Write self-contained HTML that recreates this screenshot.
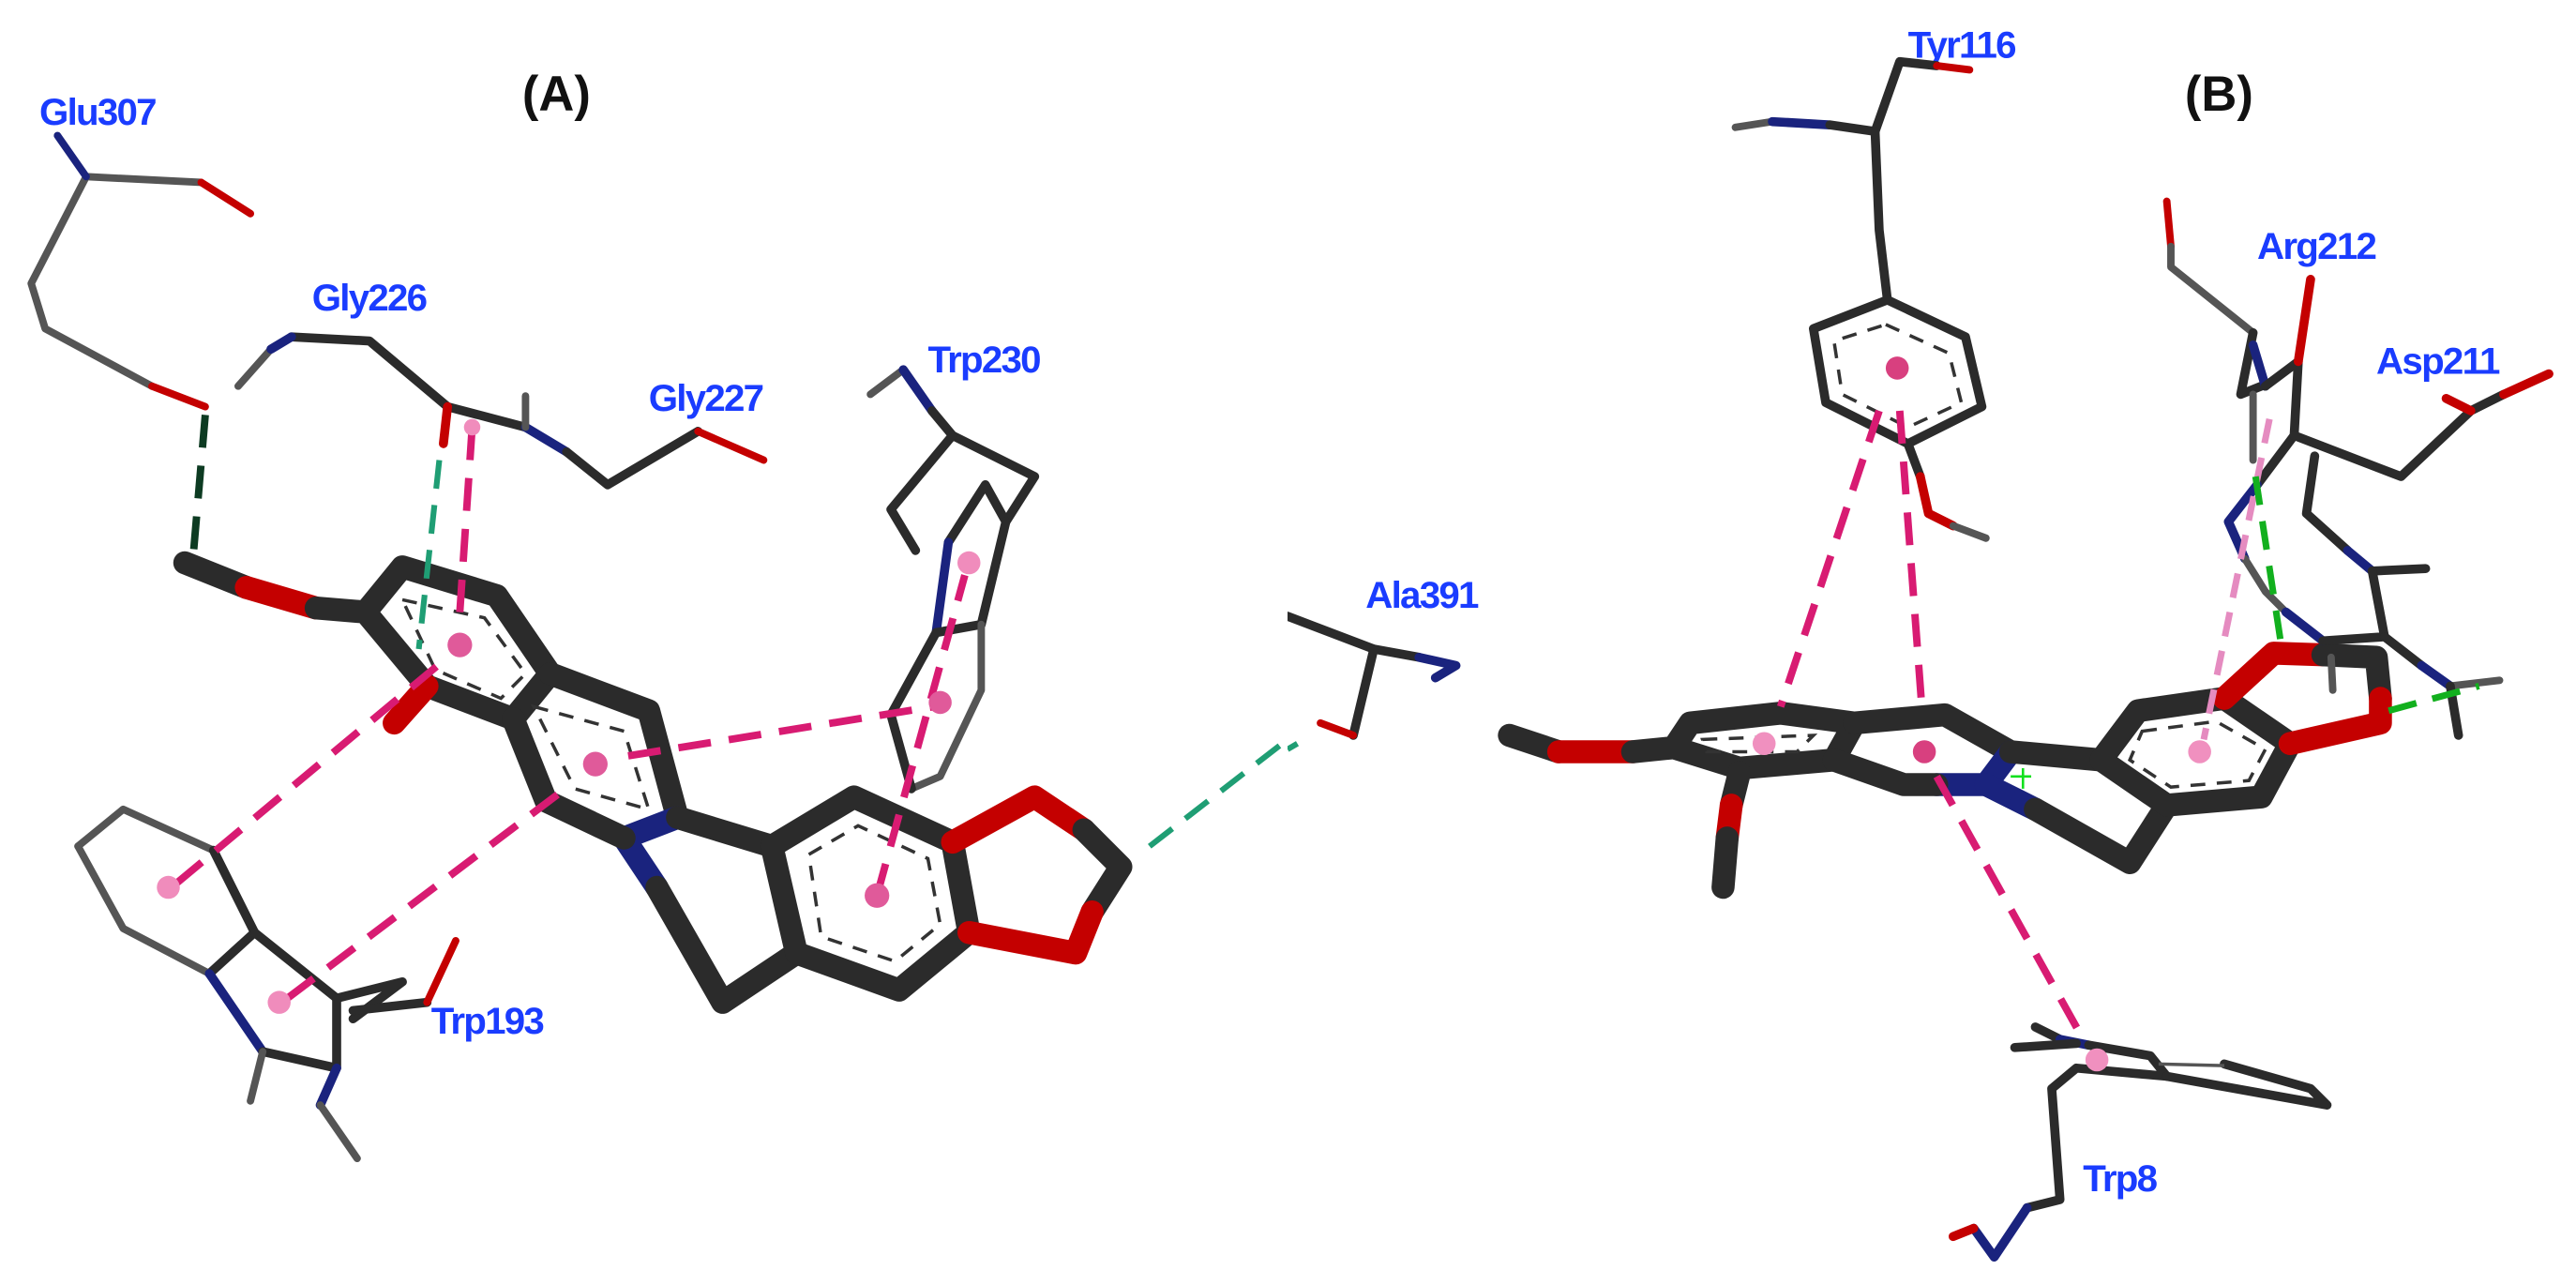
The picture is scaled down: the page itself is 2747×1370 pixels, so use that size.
<!DOCTYPE html>
<html><head><meta charset="utf-8"><style>
html,body{margin:0;padding:0;background:#fff;}
svg{display:block;position:absolute;top:0;}
.b{stroke:#2b2b2b;fill:none;stroke-linecap:round;stroke-linejoin:round;}
.t{stroke:#2b2b2b;stroke-width:28;fill:none;stroke-linecap:round;stroke-linejoin:round;}
.s{stroke:#2b2b2b;stroke-width:11;fill:none;stroke-linecap:round;stroke-linejoin:round;}
.g{stroke:#555;stroke-width:9;fill:none;stroke-linecap:round;stroke-linejoin:round;}
.lbl{font-family:"Liberation Sans",Arial,sans-serif;font-weight:bold;fill:#1a3cff;font-size:46px;letter-spacing:-2px;}
.hd{font-family:"Liberation Sans",Arial,sans-serif;font-weight:bold;fill:#111;font-size:60px;}
.pk{stroke:#d81b72;stroke-width:9;stroke-dasharray:40 22;fill:none;}
.lp{stroke:#e58bc0;stroke-width:8;stroke-dasharray:30 18;fill:none;}
.tl{stroke:#1f9e74;stroke-width:7;stroke-dasharray:35 20;fill:none;}
.gr{stroke:#12b01e;stroke-width:8;stroke-dasharray:35 20;fill:none;}
.dr{stroke:#0d3b22;stroke-width:9;stroke-dasharray:40 22;fill:none;}
.ir{stroke:#333;stroke-width:4;stroke-dasharray:18 14;fill:none;}
.red{stroke:#c40000;}
.blu{stroke:#1a237e;}
</style></head><body>
<div style="position:relative;width:2747px;height:1370px;overflow:hidden;">
<!-- LEFT PANEL -->
<svg style="left:0" width="1373" height="1370" viewBox="0 0 1568 1564" preserveAspectRatio="none">
<text class="hd" x="636" y="135">(A)</text>
<text class="lbl" x="48" y="152">Glu307</text>
<text class="lbl" x="380" y="378">Gly226</text>
<text class="lbl" x="790" y="500">Gly227</text>
<text class="lbl" x="1130" y="453">Trp230</text>
<text class="lbl" x="525" y="1258">Trp193</text>
<!-- Glu307 -->
<polyline class="g" points="105,215 245,222"/>
<polyline class="g red" points="245,222 305,260"/>
<polyline class="g" points="105,215 38,345 55,400 185,470"/>
<polyline class="g red" points="185,470 250,495"/>
<polyline class="g blu" points="70,165 105,215"/>
<line class="dr" x1="250" y1="505" x2="235" y2="680"/>
<!-- Gly226/227 -->
<polyline class="s" points="355,410 450,415 545,495 640,520"/>
<polyline class="g" points="290,470 330,425"/>
<polyline class="s blu" points="330,425 355,410"/>
<polyline class="s red" points="545,495 540,540"/>
<polyline class="s blu" points="640,520 690,550"/>
<polyline class="s" points="690,550 740,590 850,525"/>
<polyline class="g red" points="850,525 930,560"/>
<polyline class="g" points="640,520 640,482"/>
<!-- ligand A -->
<polyline class="t" points="225,685 300,715"/>
<polyline class="t red" points="300,715 385,740"/>
<polyline class="t" points="385,740 445,745 490,690 605,725 670,820 625,875 520,835 445,745"/>
<polyline class="t red" points="520,835 480,880"/>
<polyline class="t" points="670,820 790,865 825,995"/>
<polyline class="t blu" points="825,995 760,1020 800,1080"/>
<polyline class="t" points="760,1020 665,975 625,875"/>
<polyline class="t" points="825,995 940,1030"/>
<polyline class="t" points="800,1080 880,1220 970,1160"/>
<polyline class="t" points="940,1030 1040,970 1160,1025 1180,1135 1095,1205 970,1160 940,1030"/>
<polyline class="t red" points="1160,1025 1260,970 1320,1010"/>
<polyline class="t" points="1320,1010 1365,1055 1330,1110"/>
<polyline class="t red" points="1330,1110 1310,1160 1180,1135"/>
<polygon class="ir" points="490,730 590,752 640,820 610,850 530,815"/>
<polygon class="ir" points="650,860 760,890 790,985 700,960"/>
<polygon class="ir" points="985,1040 1045,1005 1130,1045 1145,1125 1090,1170 1000,1140"/>
<!-- Trp193 -->
<polyline class="g" points="95,1030 150,985 260,1035"/>
<polyline class="s" points="260,1035 310,1135 255,1185"/>
<polyline class="g" points="255,1185 150,1130 95,1030"/>
<polyline class="s" points="310,1135 410,1215 490,1195 430,1240"/>
<polyline class="s blu" points="255,1185 320,1280"/>
<polyline class="s" points="320,1280 410,1300 410,1215"/>
<polyline class="g" points="320,1280 305,1340"/>
<polyline class="s blu" points="410,1300 390,1345"/>
<polyline class="g" points="390,1345 435,1410"/>
<polyline class="s" points="430,1230 520,1220"/>
<polyline class="g red" points="520,1220 555,1145"/>
<!-- Trp230 -->
<polyline class="g" points="1060,480 1100,450"/>
<polyline class="s blu" points="1100,450 1135,500"/>
<polyline class="s" points="1135,500 1160,530 1260,580 1225,635 1200,590 1155,660"/>
<polyline class="s" points="1160,530 1085,620 1115,670"/>
<polyline class="s blu" points="1155,660 1140,770"/>
<polyline class="s" points="1225,635 1195,760 1140,770"/>
<polyline class="g" points="1195,760 1195,840 1145,945 1110,960"/>
<polyline class="s" points="1110,960 1085,870 1140,770"/>
<!-- interactions -->
<line class="pk" x1="575" y1="520" x2="560" y2="745"/>
<line class="pk" x1="765" y1="920" x2="1150" y2="858"/>
<line class="pk" x1="1068" y1="1090" x2="1175" y2="700"/>
<line class="pk" x1="215" y1="1075" x2="545" y2="800"/>
<line class="pk" x1="350" y1="1215" x2="695" y2="955"/>
<line class="tl" x1="535" y1="560" x2="510" y2="790"/>
<line class="tl" x1="1400" y1="1030" x2="1568" y2="900"/>
<g fill="#e05a9a"><circle cx="560" cy="785" r="15"/><circle cx="725" cy="930" r="15"/><circle cx="1068" cy="1090" r="15"/><circle cx="1145" cy="855" r="14"/></g>
<g fill="#f08cbc"><circle cx="1180" cy="685" r="14"/><circle cx="205" cy="1080" r="14"/><circle cx="340" cy="1220" r="14"/><circle cx="575" cy="520" r="10"/></g>
</svg>
<!-- RIGHT PANEL -->
<svg style="left:1373px" width="1374" height="1370" viewBox="0 0 1568 1564" preserveAspectRatio="none">
<text class="hd" x="1092" y="135">(B)</text>
<text class="lbl" x="755" y="70">Tyr116</text>
<text class="lbl" x="95" y="740">Ala391</text>
<text class="lbl" x="1180" y="315">Arg212</text>
<text class="lbl" x="1325" y="455">Asp211</text>
<text class="lbl" x="968" y="1450">Trp8</text>
<!-- Tyr116 -->
<polyline class="g" points="545,155 590,148"/>
<polyline class="s blu" points="590,148 660,152"/>
<polyline class="s" points="660,152 715,160 745,75 790,80"/>
<polyline class="g red" points="790,80 830,85"/>
<polyline class="s" points="715,160 720,280 730,365"/>
<polygon class="s" points="730,365 825,410 845,495 755,540 655,490 640,400"/>
<polygon class="ir" points="728,395 805,430 820,490 755,520 675,480 665,415"/>
<polyline class="s" points="755,540 770,580"/>
<polyline class="s red" points="770,580 780,625 810,640"/>
<polyline class="g" points="810,640 850,655"/>
<!-- Ala391 -->
<polyline class="s" points="0,750 105,790 160,800"/>
<polyline class="s blu" points="160,800 205,810 180,825"/>
<polyline class="s" points="105,790 80,895"/>
<polyline class="g red" points="80,895 40,880"/>
<line class="tl" x1="0" y1="912" x2="12" y2="905"/>
<!-- ligand B -->
<polyline class="t" points="270,895 330,915"/>
<polyline class="t red" points="330,915 420,915"/>
<polyline class="t" points="420,915 470,910 490,880 600,868 690,880 665,925 550,935 470,910"/>
<polyline class="t" points="550,940 540,980"/>
<polyline class="t red" points="540,980 535,1020"/>
<polyline class="t" points="535,1020 530,1080"/>
<polyline class="t" points="690,880 800,870 880,915"/>
<polyline class="t blu" points="880,915 850,955 790,955"/>
<polyline class="t" points="790,955 750,955 665,925"/>
<polyline class="t" points="880,915 990,925"/>
<polyline class="t blu" points="850,955 910,985"/>
<polyline class="t" points="910,985 1025,1050 1070,980"/>
<polyline class="t" points="990,925 1035,865 1140,850 1220,905 1185,970 1070,980 990,925"/>
<polyline class="t red" points="1140,850 1200,795 1260,797"/>
<polyline class="t" points="1260,797 1325,800 1330,850"/>
<polyline class="t red" points="1330,850 1330,880 1220,905"/>
<polygon class="ir" points="1040,890 1130,878 1190,912 1170,950 1075,958 1025,925"/>
<polygon class="ir" points="505,900 640,895 620,915 510,915"/>
<!-- Arg212 / Asp211 -->
<polyline class="g red" points="1070,245 1075,300"/>
<polyline class="g" points="1075,300 1075,325 1175,405"/>
<polyline class="s" points="1175,405 1160,480 1185,470"/>
<polyline class="s blu" points="1175,420 1190,470"/>
<polyline class="s" points="1190,470 1230,440 1225,530"/>
<polyline class="g" points="1175,480 1175,560"/>
<polyline class="s red" points="1230,440 1245,340"/>
<polyline class="s" points="1225,530 1180,590"/>
<polyline class="s blu" points="1180,590 1145,635 1165,680"/>
<polyline class="g" points="1165,680 1190,720 1215,745"/>
<polyline class="s blu" points="1215,745 1260,780"/>
<polyline class="s" points="1225,530 1355,580 1440,500 1480,480"/>
<polyline class="s red" points="1480,480 1535,455"/>
<polyline class="s red" points="1440,500 1410,485"/>
<polyline class="s" points="1250,555 1240,625 1290,670"/>
<polyline class="s blu" points="1290,670 1320,695"/>
<polyline class="s" points="1320,695 1385,692"/>
<polyline class="s" points="1320,695 1335,775 1260,780"/>
<polyline class="s" points="1335,775 1380,810"/>
<polyline class="s blu" points="1380,810 1415,835"/>
<polyline class="g" points="1415,835 1475,828"/>
<polyline class="s" points="1415,835 1425,895"/>
<polyline class="g" points="1270,800 1272,840"/>
<!-- Trp8 -->
<polyline class="s" points="910,1250 940,1265"/>
<polyline class="s blu" points="940,1265 975,1272"/>
<polyline class="s" points="975,1272 1050,1285 1070,1310 960,1300 930,1325 940,1460 900,1470"/>
<polyline class="s blu" points="900,1470 860,1530 835,1495"/>
<polyline class="s red" points="835,1495 810,1505"/>
<polyline class="s" points="885,1275 960,1270"/>
<polyline class="s" points="1070,1310 1265,1345 1245,1325 1140,1295"/>
<line x1="1060" y1="1295" x2="1140" y2="1297" stroke="#555" stroke-width="4"/>
<!-- interactions -->
<line class="pk" x1="720" y1="500" x2="600" y2="860"/>
<line class="pk" x1="745" y1="500" x2="772" y2="862"/>
<line class="pk" x1="790" y1="945" x2="970" y2="1268"/>
<line class="lp" x1="1195" y1="510" x2="1115" y2="900"/>
<line class="gr" x1="1178" y1="580" x2="1210" y2="790"/>
<line class="gr" x1="1340" y1="865" x2="1450" y2="835"/>
<path d="M880,945 L905,945 M895,935 L895,960" stroke="#12e01e" stroke-width="3"/>
<g fill="#d8407f"><circle cx="742" cy="448" r="14"/><circle cx="775" cy="915" r="14"/></g>
<g fill="#f090bf"><circle cx="580" cy="905" r="14"/><circle cx="1110" cy="915" r="14"/><circle cx="985" cy="1290" r="14"/></g>
</svg>
</div>
</body></html>
